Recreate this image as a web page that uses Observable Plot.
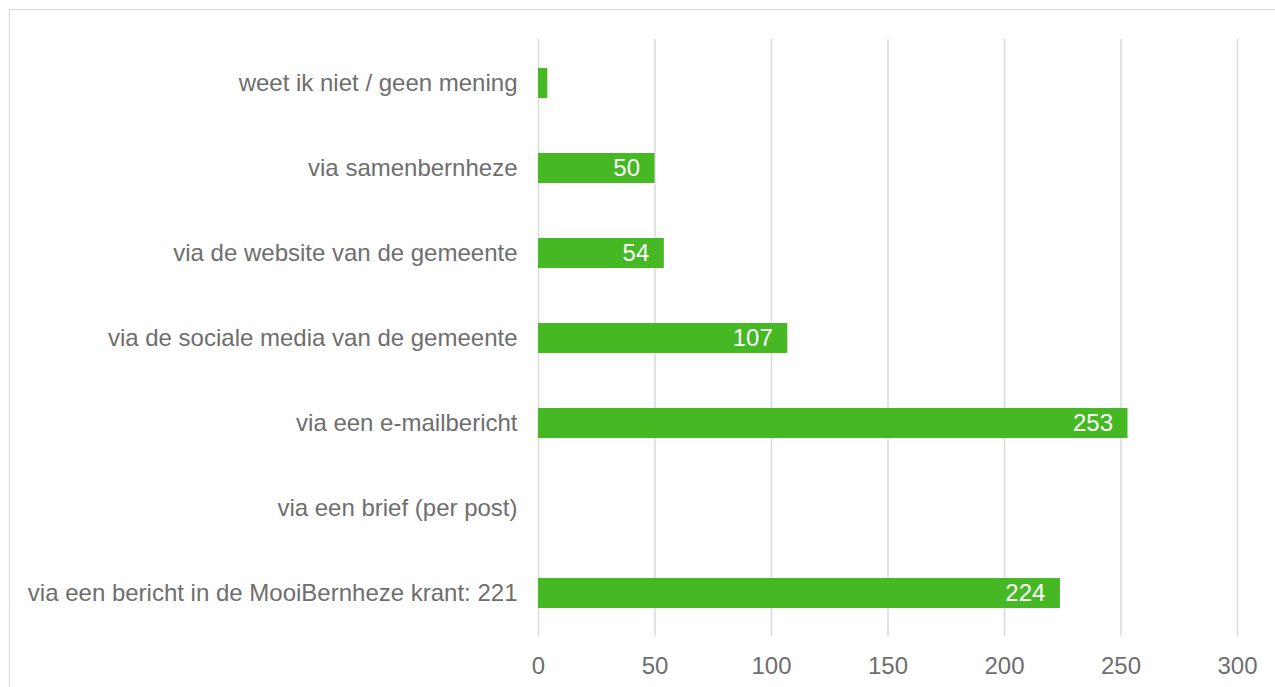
<!DOCTYPE html>
<html>
<head>
<meta charset="utf-8">
<script src="https://cdn.jsdelivr.net/npm/d3@7"></script>
<script src="https://cdn.jsdelivr.net/npm/@observablehq/plot@0.6"></script>
<style>
  html, body { margin: 0; padding: 0; background: #fff; overflow: hidden; }
  #wrap { position: relative; width: 1275px; height: 687px; }
  #frame { position: absolute; left: 9px; top: 9px; width: 1300px; height: 700px; border: 1px solid #d9d9d9; box-sizing: border-box; }
  #chart { position: absolute; left: 0; top: 0; }
</style>
</head>
<body>
<div id="wrap"><div id="frame"></div><div id="chart"></div></div>
<script>
const categories = [
  "weet ik niet / geen mening",
  "via samenbernheze",
  "via de website van de gemeente",
  "via de sociale media van de gemeente",
  "via een e-mailbericht",
  "via een brief (per post)",
  "via een bericht in de MooiBernheze krant: 221"
];
const values = [4, 50, 54, 107, 253, 0, 224];
const xTicks = [0, 50, 100, 150, 200, 250, 300];

const data = categories.map((c, i) => ({category: c, value: values[i]}));
const labelled = data.filter(d => d.value >= 10);

const plot = Plot.plot({
  width: 1275,
  height: 687,
  marginLeft: 538,
  marginRight: 38,
  marginTop: 39,
  marginBottom: 51,
  style: {fontFamily: "Liberation Sans, Arial, sans-serif", fontSize: "24px", color: "#6e6e6e", background: "transparent"},
  x: {domain: [0, 300], ticks: xTicks, tickSize: 0, tickPadding: 20, label: null},
  y: {domain: categories, paddingInner: 0.65, paddingOuter: 0.325, tickSize: 0, tickPadding: 21, label: null},
  marks: [
    Plot.gridX(xTicks, {stroke: "#d9d9d9", strokeOpacity: 1, strokeWidth: 1.5}),
    Plot.barX(data, {x: "value", y: "category", fill: "#45b823"}),
    Plot.text(labelled, {x: "value", y: "category", text: d => String(d.value), textAnchor: "end", dx: -15, fill: "white", fontSize: 24})
  ]
});
document.getElementById("chart").appendChild(plot);
</script>
</body>
</html>
